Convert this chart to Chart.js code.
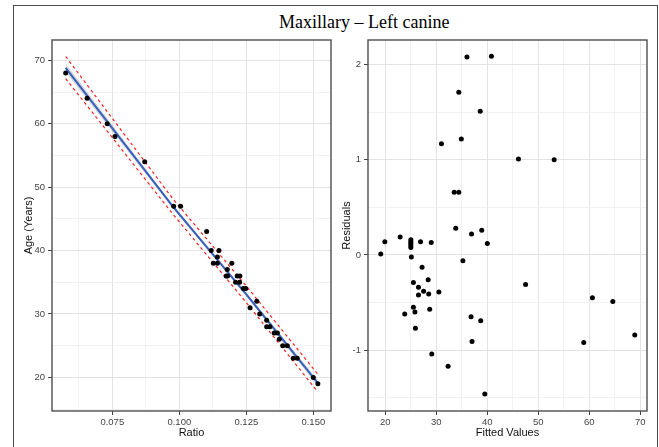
<!DOCTYPE html>
<html>
<head>
<meta charset="utf-8">
<script src="https://cdn.jsdelivr.net/npm/chart.js@4.4.1/dist/chart.umd.min.js"></script>
<style>
  html, body { margin: 0; padding: 0; background: #fff; }
  #wrap { position: relative; width: 659px; height: 447px; overflow: hidden; }
  #frame { position: absolute; left: 13px; top: 5px; width: 645px; height: 460px; border: 1.5px solid #4a4a4a; box-sizing: border-box; }
  #title { position: absolute; left: 279px; top: 13px; font: 18px "Liberation Serif", serif; line-height: 18px; color: #000; white-space: pre; }
  canvas { position: absolute; left: 0; top: 0; }
</style>
</head>
<body>
<div id="wrap">
  <div id="frame"></div>
  <div id="title">Maxillary – Left canine</div>
  <canvas id="left" width="659" height="447"></canvas>
  <canvas id="right" width="659" height="447"></canvas>
</div>
<script>
// left panel: age against ratio
const ratio = [0.0576, 0.0656, 0.0731, 0.0760, 0.0871, 0.0979, 0.1005, 0.1102, 0.1119, 0.1148,
  0.1142, 0.1127, 0.1142, 0.1196, 0.1179, 0.1175, 0.1180, 0.1216, 0.1226, 0.1210,
  0.1225, 0.1239, 0.1248, 0.1289, 0.1264, 0.1300, 0.1326, 0.1326, 0.1338, 0.1354,
  0.1366, 0.1373, 0.1386, 0.1403, 0.1425, 0.1440, 0.1500, 0.1517];
const age = [68, 64, 60, 58, 54, 47, 47, 43, 40, 40,
  39, 38, 38, 38, 37, 36, 36, 36, 36, 35,
  35, 34, 34, 32, 31, 30, 29, 28, 28, 27,
  27, 26, 25, 25, 23, 23, 20, 19];

// fitted line, its confidence band and the prediction limits
const fitRatio = [0.0576, 0.0977, 0.1250, 0.1517];
const fitAge = [68.8, 46.9, 33.1, 19.1];
const seUpper = [69.5, 47.2, 33.4, 19.6];
const seLower = [68.1, 46.6, 32.8, 18.6];
const predUpper = [70.6, 48.1, 34.4, 20.5];
const predLower = [67.1, 45.7, 31.8, 17.7];

// right panel: residuals against fitted values
const fitted = [36.0, 40.8, 34.4, 38.6, 34.9, 31.0, 46.1, 53.1, 33.5, 34.4,
  33.8, 36.9, 38.9, 40.0, 19.9, 19.1, 22.9, 25.0, 25.0, 25.0, 25.0, 25.0, 26.9, 29.0,
  25.1, 35.2, 27.2, 28.4, 25.5, 26.5, 27.5, 28.5, 26.5, 30.5, 25.5, 23.8, 25.8, 28.7,
  36.8, 38.7, 25.9, 37.0, 29.1, 32.3, 39.5, 47.5, 60.6, 64.6, 58.9, 68.9];
const resid = [2.08, 2.09, 1.71, 1.51, 1.22, 1.17, 1.01, 1.00, 0.66, 0.66,
  0.28, 0.22, 0.26, 0.12, 0.14, 0.01, 0.19, 0.16, 0.14, 0.12, 0.10, 0.08, 0.14, 0.13,
  -0.02, -0.06, -0.13, -0.26, -0.29, -0.34, -0.38, -0.41, -0.42, -0.39, -0.55, -0.62, -0.60, -0.57,
  -0.65, -0.69, -0.77, -0.91, -1.04, -1.17, -1.46, -0.31, -0.45, -0.49, -0.92, -0.84];

// tick positions
const ratioMajor = [0.075, 0.100, 0.125, 0.150];
const ratioMinor = [0.0625, 0.0875, 0.1125, 0.1375];
const ageMajor = [20, 30, 40, 50, 60, 70];
const ageMinor = [15, 25, 35, 45, 55, 65];
const fittedMajor = [20, 30, 40, 50, 60, 70];
const fittedMinor = [25, 35, 45, 55, 65];
const residMajor = [-1, 0, 1, 2];
const residMinor = [-1.5, -0.5, 0.5, 1.5];

const pts = (xs, ys) => xs.map((x, i) => ({ x: x, y: ys[i] }));
const isIn = (list, v) => list.some(m => Math.abs(m - v) < 1e-9);

const panelFrame = {
  id: 'panelFrame',
  afterDraw(chart) {
    const a = chart.chartArea, ctx = chart.ctx;
    ctx.save();
    ctx.strokeStyle = '#4d4d4d';
    ctx.lineWidth = 1.4;
    ctx.strokeRect(a.left, a.top, a.right - a.left, a.bottom - a.top);
    ctx.restore();
  }
};

function makeScale(o) {
  return {
    type: 'linear',
    min: o.min,
    max: o.max,
    afterBuildTicks: s => {
      s.ticks = o.major.concat(o.minor).sort((a, b) => a - b).map(v => ({ value: v }));
    },
    afterFit: s => { if (o.horizontal) s.height = o.size; else s.width = o.size; },
    grid: {
      color: c => isIn(o.major, c.tick.value) ? '#e3e3e3' : '#efefef',
      lineWidth: c => isIn(o.major, c.tick.value) ? 1 : 0.8,
      tickColor: c => isIn(o.major, c.tick.value) ? '#444' : 'rgba(0,0,0,0)',
      tickLength: 4
    },
    border: { display: false },
    ticks: {
      autoSkip: false,
      maxRotation: 0,
      padding: o.horizontal ? 2 : 3,
      color: '#444',
      font: { family: 'Liberation Sans', size: 9.5 },
      callback: v => isIn(o.major, v) ? v.toFixed(o.digits) : ''
    },
    title: {
      display: true,
      text: o.title,
      color: '#111',
      font: { family: 'Liberation Sans', size: 11 },
      padding: o.titlePad
    }
  };
}

const common = {
  responsive: false,
  animation: false,
  plugins: { legend: { display: false }, tooltip: { enabled: false } }
};

new Chart(document.getElementById('left'), {
  type: 'scatter',
  data: {
    datasets: [
      { data: pts(ratio, age), pointRadius: 2.5, pointBackgroundColor: '#000', pointBorderWidth: 0, order: 0 },
      { type: 'line', data: pts(fitRatio, fitAge), borderColor: '#3560bd', borderWidth: 2, pointRadius: 0, order: 1 },
      { type: 'line', data: pts(fitRatio, predUpper), borderColor: '#ff2020', borderDash: [3, 3], borderWidth: 1.2, pointRadius: 0, order: 2 },
      { type: 'line', data: pts(fitRatio, predLower), borderColor: '#ff2020', borderDash: [3, 3], borderWidth: 1.2, pointRadius: 0, order: 3 },
      { type: 'line', data: pts(fitRatio, seUpper), borderWidth: 0, pointRadius: 0, fill: '+1', backgroundColor: 'rgba(140,140,140,0.35)', order: 4 },
      { type: 'line', data: pts(fitRatio, seLower), borderWidth: 0, pointRadius: 0, fill: false, order: 5 }
    ]
  },
  options: Object.assign({}, common, {
    layout: { padding: { left: 13, top: 40, right: 328, bottom: 0 } },
    scales: {
      x: makeScale({ min: 0.0525, max: 0.1566, major: ratioMajor, minor: ratioMinor, digits: 3,
        title: 'Ratio', horizontal: true, size: 36, titlePad: { top: 0, bottom: 7 } }),
      y: makeScale({ min: 14.7, max: 73.2, major: ageMajor, minor: ageMinor, digits: 0,
        title: 'Age (Years)', horizontal: false, size: 39, titlePad: { top: 9, bottom: 0 } })
    }
  }),
  plugins: [panelFrame]
});

new Chart(document.getElementById('right'), {
  type: 'scatter',
  data: {
    datasets: [
      { data: pts(fitted, resid), pointRadius: 2.5, pointBackgroundColor: '#000', pointBorderWidth: 0 }
    ]
  },
  options: Object.assign({}, common, {
    layout: { padding: { left: 330, top: 40, right: 12, bottom: 0 } },
    scales: {
      x: makeScale({ min: 16.6, max: 71.3, major: fittedMajor, minor: fittedMinor, digits: 0,
        title: 'Fitted Values', horizontal: true, size: 36, titlePad: { top: 0, bottom: 7 } }),
      y: makeScale({ min: -1.64, max: 2.26, major: residMajor, minor: residMinor, digits: 0,
        title: 'Residuals', horizontal: false, size: 38, titlePad: { top: 10, bottom: 0 } })
    }
  }),
  plugins: [panelFrame]
});
</script>
</body>
</html>
